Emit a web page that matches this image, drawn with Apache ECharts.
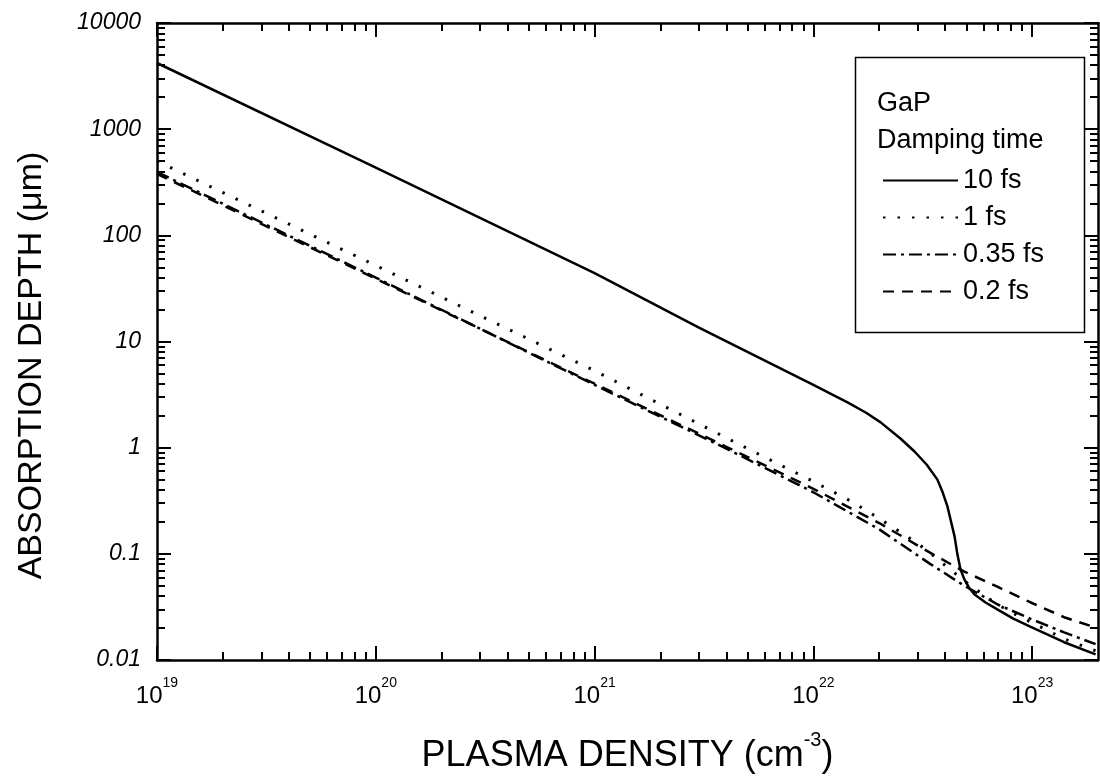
<!DOCTYPE html>
<html>
<head>
    <meta charset="utf-8">
    <script src="https://cdn.jsdelivr.net/npm/echarts@6/dist/echarts.min.js"></script>
</head>
<body style="margin: 0; background: #fff;">
<div id="myChart" style="width: 1100px; height: 779px;"></div>

<script type="text/javascript">
    var chart = echarts.init(document.getElementById('myChart'));

    // plasma density (cm^-3) / absorption depth (um)
    var x10fs = [1e19, 1e20, 1e21, 3e21, 1e22, 1.44e22, 1.75e22, 2.03e22, 2.5e22, 2.9e22, 3.3e22, 3.69e22, 3.9e22, 4.1e22, 4.25e22, 4.42e22, 4.55e22, 4.7e22, 4.9e22, 5.15e22, 5.44e22, 6.1e22, 6.93e22, 8.2e22, 9.8e22, 1.4e23, 1.95e23];
    var y10fs = [4200, 435, 44, 13.5, 3.9, 2.66, 2.12, 1.73, 1.22, 0.92, 0.69, 0.50, 0.38, 0.28, 0.205, 0.146, 0.1, 0.072, 0.0575, 0.048, 0.0416, 0.035, 0.030, 0.0245, 0.0206, 0.0147, 0.0113];

    var x1fs = [1e19, 1e20, 1e21, 4.68e21, 1e22, 1.5e22, 2e22, 2.5e22, 3e22, 3.5e22, 4e22, 4.5e22, 5e22, 6e22, 7e22, 8.5e22, 1e23, 1.4e23, 1.95e23];
    var y1fs = [500, 52, 5.3, 1.05, 0.48, 0.31, 0.215, 0.16, 0.125, 0.098, 0.078, 0.064, 0.054, 0.041, 0.033, 0.0265, 0.0225, 0.0158, 0.0122];

    var xShort = [1e19, 1e20, 1e21, 4e21, 1e22, 2e22, 3.43e22, 4.9e22, 6.93e22, 9.8e22, 1.4e23, 1.95e23];
    var y035fs = [395, 40, 3.9, 0.98, 0.38, 0.17, 0.08, 0.050, 0.0335, 0.0245, 0.0182, 0.0141];
    var y02fs = [380, 39, 4.0, 1.02, 0.41, 0.195, 0.102, 0.068, 0.049, 0.035, 0.0253, 0.0202];

    var xMajor = [1e19, 1e20, 1e21, 1e22, 1e23];
    var yMajor = [0.01, 0.1, 1, 10, 100, 1000, 10000];
    var minorSteps = [2, 3, 4, 5, 6, 7, 8, 9];

    function minors(majors, maxVal) {
        var out = [];
        majors.forEach(function (m) {
            minorSteps.forEach(function (k) {
                if (m * k < maxVal * 0.999) out.push(m * k);
            });
        });
        return out;
    }

    function pairs(xs, ys) {
        return xs.map(function (x, i) { return [x, ys[i]]; });
    }

    var xMin = 1e19, xMax = 2e23, yMin = 0.01, yMax = 10000;
    var xMinor = minors(xMajor, xMax);
    var yMinor = minors(yMajor, yMax);
    var font = 'Liberation Sans';
    var black = '#000';

    function xAx(pos, ticks, len, main) {
        return {
            type: 'log',
            logBase: 10,
            min: xMin,
            max: xMax,
            position: pos,
            axisLine: {show: main, lineStyle: {color: black, width: 2.5}},
            axisTick: {show: true, inside: true, length: len, customValues: ticks, lineStyle: {color: black, width: 2}},
            axisLabel: {show: false},
            splitLine: {show: false}
        };
    }

    function yAx(pos, ticks, len, main) {
        return {
            type: 'log',
            logBase: 10,
            min: yMin,
            max: yMax,
            position: pos,
            axisLine: {show: main, lineStyle: {color: black, width: 2.5}},
            axisTick: {show: true, inside: true, length: len, customValues: ticks, lineStyle: {color: black, width: 2}},
            axisLabel: {show: false},
            splitLine: {show: false}
        };
    }

    var xBottom = xAx('bottom', xMajor, 14, true);
    xBottom.axisLabel = {
        show: true,
        customValues: xMajor,
        margin: 16,
        formatter: function (v) {
            return '{b|10}{s|' + Math.round(Math.log10(v)) + '}';
        },
        rich: {
            b: {fontFamily: font, fontSize: 24, color: black, lineHeight: 32, verticalAlign: 'bottom'},
            s: {fontFamily: font, fontSize: 14, color: black, lineHeight: 14, verticalAlign: 'top'}
        }
    };
    xBottom.name = '{a|PLASMA DENSITY (cm}{s|-3}{a|)}';
    xBottom.nameLocation = 'middle';
    xBottom.nameGap = 70;
    xBottom.nameTextStyle = {
        rich: {
            a: {fontFamily: font, fontSize: 36, color: black, lineHeight: 44, verticalAlign: 'bottom'},
            s: {fontFamily: font, fontSize: 20, color: black, lineHeight: 20, verticalAlign: 'top'}
        }
    };

    var yLeft = yAx('left', yMajor, 14, true);
    yLeft.axisLabel = {
        show: true,
        customValues: yMajor,
        margin: 16,
        fontFamily: font,
        fontSize: 23,
        fontStyle: 'italic',
        color: black,
        formatter: function (v) {
            var e = Math.round(Math.log10(v));
            var p = Math.pow(10, e);
            return e >= 0 ? String(p) : p.toFixed(-e);
        }
    };
    yLeft.name = 'ABSORPTION DEPTH (\u03bcm)';
    yLeft.nameLocation = 'middle';
    yLeft.nameGap = 108;
    yLeft.nameTextStyle = {fontFamily: font, fontSize: 34, color: black, padding: [0, 48, 0, 0]};

    var option = {
        backgroundColor: '#fff',
        animation: false,
        grid: {left: 157, right: 2, top: 23, bottom: 117, containLabel: false},
        xAxis: [
            xBottom,
            xAx('bottom', xMinor, 8, false),
            xAx('top', xMajor, 14, true),
            xAx('top', xMinor, 8, false)
        ],
        yAxis: [
            yLeft,
            yAx('left', yMinor, 8, false),
            yAx('right', yMajor, 14, true),
            yAx('right', yMinor, 8, false)
        ],
        legend: {
            orient: 'vertical',
            left: 877,
            top: 162,
            itemWidth: 75,
            itemHeight: 14,
            itemGap: 10,
            itemStyle: {opacity: 0, borderWidth: 0},
            textStyle: {fontFamily: font, fontSize: 27, color: black},
            data: ['10 fs', '1 fs', '0.35 fs', '0.2 fs']
        },
        graphic: [
            {type: 'rect', left: 853, top: 55, shape: {width: 229, height: 275}, style: {fill: 'none', stroke: black, lineWidth: 1.5}},
            {type: 'text', left: 877, top: 90, style: {text: 'GaP', font: '27px "Liberation Sans"', fill: black}},
            {type: 'text', left: 877, top: 127, style: {text: 'Damping time', font: '27px "Liberation Sans"', fill: black}}
        ],
        series: [{
            name: '10 fs',
            type: 'line',
            symbol: 'none',
            showSymbol: false,
            lineStyle: {color: black, width: 2.5, type: 'solid'},
            itemStyle: {color: black},
            data: pairs(x10fs, y10fs)
        }, {
            name: '1 fs',
            type: 'line',
            symbol: 'none',
            showSymbol: false,
            lineStyle: {color: black, width: 3, type: [2.5, 12]},
            itemStyle: {color: black},
            data: pairs(x1fs, y1fs)
        }, {
            name: '0.35 fs',
            type: 'line',
            symbol: 'none',
            showSymbol: false,
            lineStyle: {color: black, width: 2.5, type: [13, 5, 3, 5]},
            itemStyle: {color: black},
            data: pairs(xShort, y035fs)
        }, {
            name: '0.2 fs',
            type: 'line',
            symbol: 'none',
            showSymbol: false,
            lineStyle: {color: black, width: 2.5, type: [11, 8]},
            itemStyle: {color: black},
            data: pairs(xShort, y02fs)
        }]
    };

    chart.setOption(option, true);
</script>
</body>
</html>
